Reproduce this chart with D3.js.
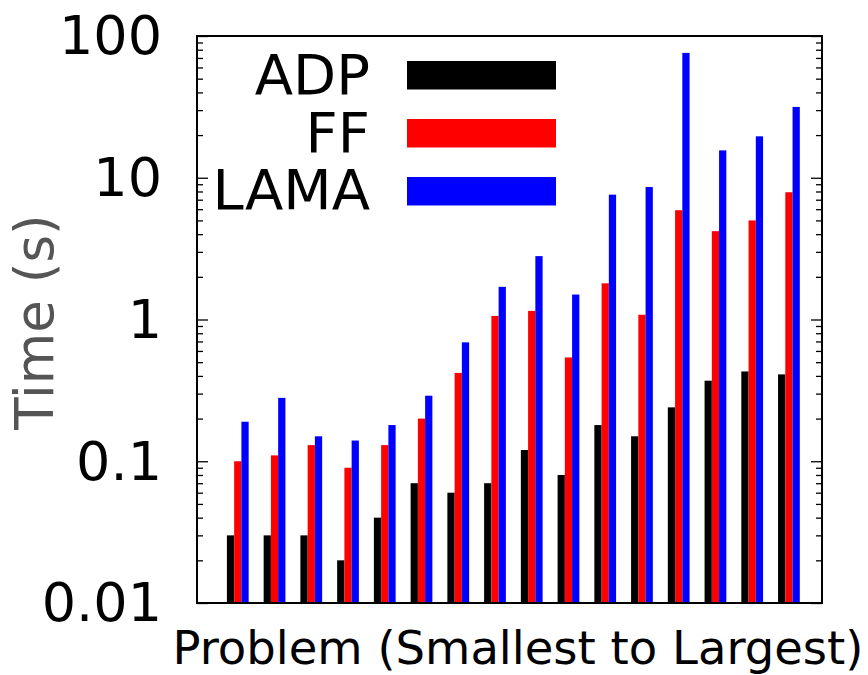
<!DOCTYPE html>
<html>
<head>
<meta charset="utf-8">
<script src="https://cdn.jsdelivr.net/npm/d3@7"></script>
<style>
  body { margin: 0; background: #fff; }
  svg text { font-family: "DejaVu Sans", sans-serif; fill: #000; }
</style>
</head>
<body>
<div id="chart"></div>
<script>
const width = 868,
  height = 675;

// one entry per problem, smallest to largest
const problems = d3.range(16);
const adp = [0.03, 0.03, 0.03, 0.02, 0.04, 0.07, 0.06, 0.07, 0.12, 0.08, 0.18, 0.15, 0.24, 0.37, 0.43, 0.41];
const ff = [0.1, 0.11, 0.13, 0.09, 0.13, 0.2, 0.42, 1.06, 1.15, 0.54, 1.8, 1.08, 5.9, 4.2, 5.0, 7.9];
const lama = [0.19, 0.28, 0.15, 0.14, 0.18, 0.29, 0.69, 1.7, 2.8, 1.5, 7.6, 8.6, 76, 15.6, 19.6, 31.6];
const seriesNames = ["ADP", "FF", "LAMA"];
const seriesColors = ["#000000", "#ff0000", "#0000ff"];
const yTicks = [0.01, 0.1, 1, 10, 100];

const series = [adp, ff, lama];

const plotLeft = 197,
  plotRight = 822,
  plotTop = 36,
  plotBottom = 603;

const svg = d3
  .select("#chart")
  .append("svg")
  .attr("width", width)
  .attr("height", height);

const x = d3.scaleLinear().domain([-1.11, 15.9]).range([plotLeft, plotRight]);
const y = d3.scaleLog().domain([0.01, 100]).range([plotBottom, plotTop]);
const barW = 7.25;

// minor ticks 2..9 in every decade
const minorTicks = [];
[0.01, 0.1, 1, 10].forEach(function (d) {
  for (let k = 2; k <= 9; k++) minorTicks.push(d * k);
});

// bars
series.forEach(function (vals, s) {
  svg
    .append("g")
    .selectAll("rect")
    .data(problems)
    .enter()
    .append("rect")
    .attr("x", (i) => x(i) - 1.5 * barW + s * barW)
    .attr("width", barW)
    .attr("y", (i) => y(vals[i]))
    .attr("height", (i) => plotBottom - y(vals[i]))
    .attr("fill", seriesColors[s]);
});

// axes
const gl = svg.append("g").attr("transform", `translate(${plotLeft},0)`);
gl.call(d3.axisLeft(y).tickValues(minorTicks).tickSize(-6).tickFormat(""));
const gl2 = svg.append("g").attr("transform", `translate(${plotLeft},0)`);
gl2.call(
  d3
    .axisLeft(y)
    .tickValues(yTicks)
    .tickSize(-11)
    .tickPadding(35)
    .tickFormat((d) => (d >= 1 ? d3.format("d")(d) : String(d)))
);
const gr = svg.append("g").attr("transform", `translate(${plotRight},0)`);
gr.call(d3.axisRight(y).tickValues(minorTicks).tickSize(-6).tickFormat(""));
const gr2 = svg.append("g").attr("transform", `translate(${plotRight},0)`);
gr2.call(d3.axisRight(y).tickValues(yTicks).tickSize(-11).tickFormat(""));

svg.selectAll(".domain").remove();
svg.selectAll(".tick line").attr("stroke", "#000").attr("stroke-width", 1.3);
gl2
  .selectAll(".tick text")
  .attr("font-size", 54)
  .attr("dy", "0.33em")
  .style("font-family", "DejaVu Sans, sans-serif");

// frame
svg
  .append("rect")
  .attr("x", plotLeft)
  .attr("y", plotTop)
  .attr("width", plotRight - plotLeft)
  .attr("height", plotBottom - plotTop)
  .attr("fill", "none")
  .attr("stroke", "#000")
  .attr("stroke-width", 2);

// legend
const legend = svg.append("g");
seriesNames.forEach(function (name, s) {
  legend
    .append("text")
    .attr("x", 370)
    .attr("y", 94 + s * 57.5)
    .attr("text-anchor", "end")
    .attr("font-size", 56)
    .text(name);
  legend
    .append("rect")
    .attr("x", 407)
    .attr("y", 61 + s * 58)
    .attr("width", 149)
    .attr("height", 28.5)
    .attr("fill", seriesColors[s]);
});

// axis titles
svg
  .append("text")
  .attr("transform", "translate(53,322) rotate(-90)")
  .attr("text-anchor", "middle")
  .attr("font-size", 53)
  .style("fill", "#555")
  .text("Time (s)");

svg
  .append("text")
  .attr("x", 518)
  .attr("y", 664)
  .attr("text-anchor", "middle")
  .attr("font-size", 46.5)
  .text("Problem (Smallest to Largest)");
</script>
</body>
</html>
